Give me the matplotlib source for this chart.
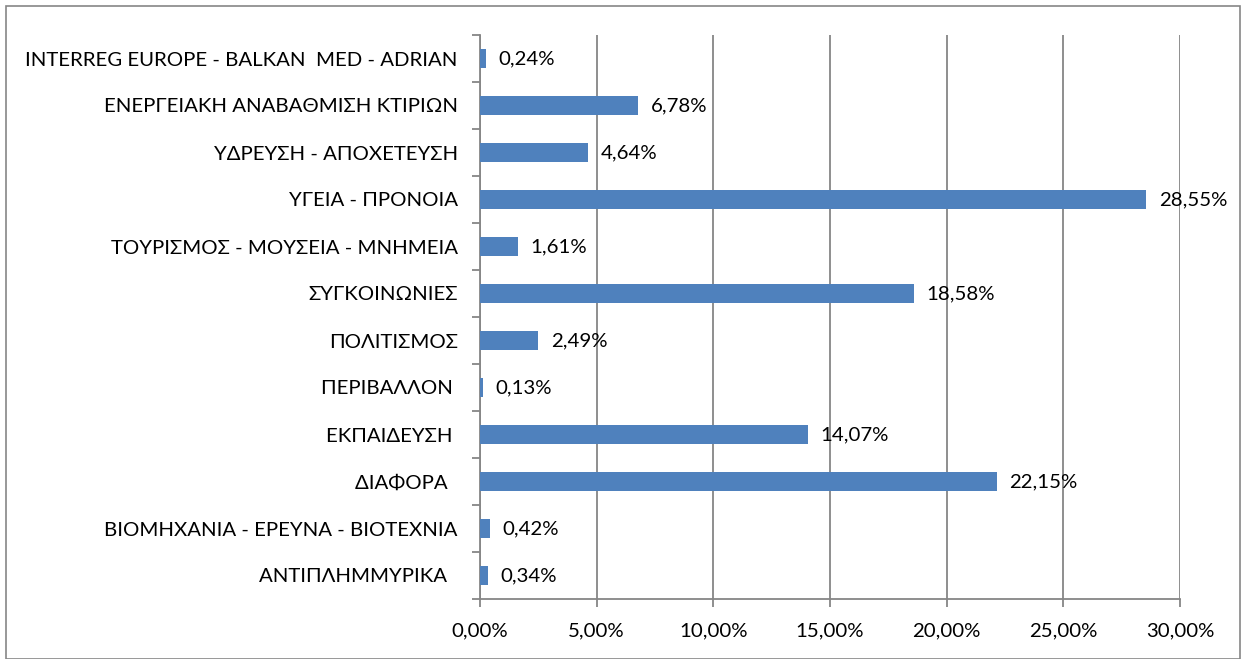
import matplotlib.pyplot as plt
from matplotlib.patches import Rectangle
from matplotlib.ticker import FixedLocator

plt.rcParams['font.family'] = ['Lato', 'DejaVu Sans']

# categories bottom to top
categories = [
    "ΑΝΤΙΠΛΗΜΜΥΡΙΚΑ  ",
    "ΒΙΟΜΗΧΑΝΙΑ - ΕΡΕΥΝΑ - ΒΙΟΤΕΧΝΙΑ",
    "ΔΙΑΦΟΡΑ  ",
    "ΕΚΠΑΙΔΕΥΣΗ ",
    "ΠΕΡΙΒΑΛΛΟΝ ",
    "ΠΟΛΙΤΙΣΜΟΣ",
    "ΣΥΓΚΟΙΝΩΝΙΕΣ",
    "ΤΟΥΡΙΣΜΟΣ - ΜΟΥΣΕΙΑ - ΜΝΗΜΕΙΑ",
    "ΥΓΕΙΑ - ΠΡΟΝΟΙΑ",
    "ΥΔΡΕΥΣΗ - ΑΠΟΧΕΤΕΥΣΗ",
    "ΕΝΕΡΓΕΙΑΚΗ ΑΝΑΒΑΘΜΙΣΗ ΚΤΙΡΙΩΝ",
    "INTERREG EUROPE - BALKAN  MED - ADRIAN",
]
values = [0.34, 0.42, 22.15, 14.07, 0.13, 2.49, 18.58, 1.61, 28.55, 4.64, 6.78, 0.24]
xticks = [0, 5, 10, 15, 20, 25, 30]

W, H = 1242, 659
fig = plt.figure(figsize=(W / 100, H / 100), dpi=100)
ax = fig.add_axes([480 / W, 1 - 599 / H, 700 / W, 564 / H])

fs = 14.7
grey = '#868686'
ypos = range(len(categories))
ax.barh(ypos, values, height=0.4, color='#4F81BD', zorder=3)
for y, v in zip(ypos, values):
    ax.annotate(f"{v:.2f}%".replace('.', ','), (v, y), xytext=(9, 0),
                textcoords='offset points', va='center', ha='left',
                fontsize=fs, color='black', zorder=4)

ax.set_xlim(0, 30)
ax.set_ylim(-0.5, len(categories) - 0.5)
ax.set_xticks(xticks)
ax.set_xticklabels([f"{t:.2f}%".replace('.', ',') for t in xticks], fontsize=fs)
ax.set_yticks(list(ypos))
ax.set_yticklabels(categories, fontsize=fs)
ax.tick_params(axis='y', length=0, pad=16)
ax.yaxis.set_minor_locator(FixedLocator([i - 0.5 for i in range(len(categories) + 1)]))
ax.tick_params(axis='y', which='minor', length=6, color=grey, width=1.3)
ax.tick_params(axis='x', length=6, color=grey, width=1.3, pad=11)
ax.grid(axis='x', color=grey, linewidth=1.3, zorder=0)
for s in ['top', 'right']:
    ax.spines[s].set_visible(False)
for s in ['left', 'bottom']:
    ax.spines[s].set_color(grey)
    ax.spines[s].set_linewidth(1.3)

fig.patches.append(Rectangle((6 / W, 0), 1234 / W, 1 - 6 / H, transform=fig.transFigure,
                             fill=False, edgecolor=grey, linewidth=1.2))

fig.savefig('out.png', dpi=100)
